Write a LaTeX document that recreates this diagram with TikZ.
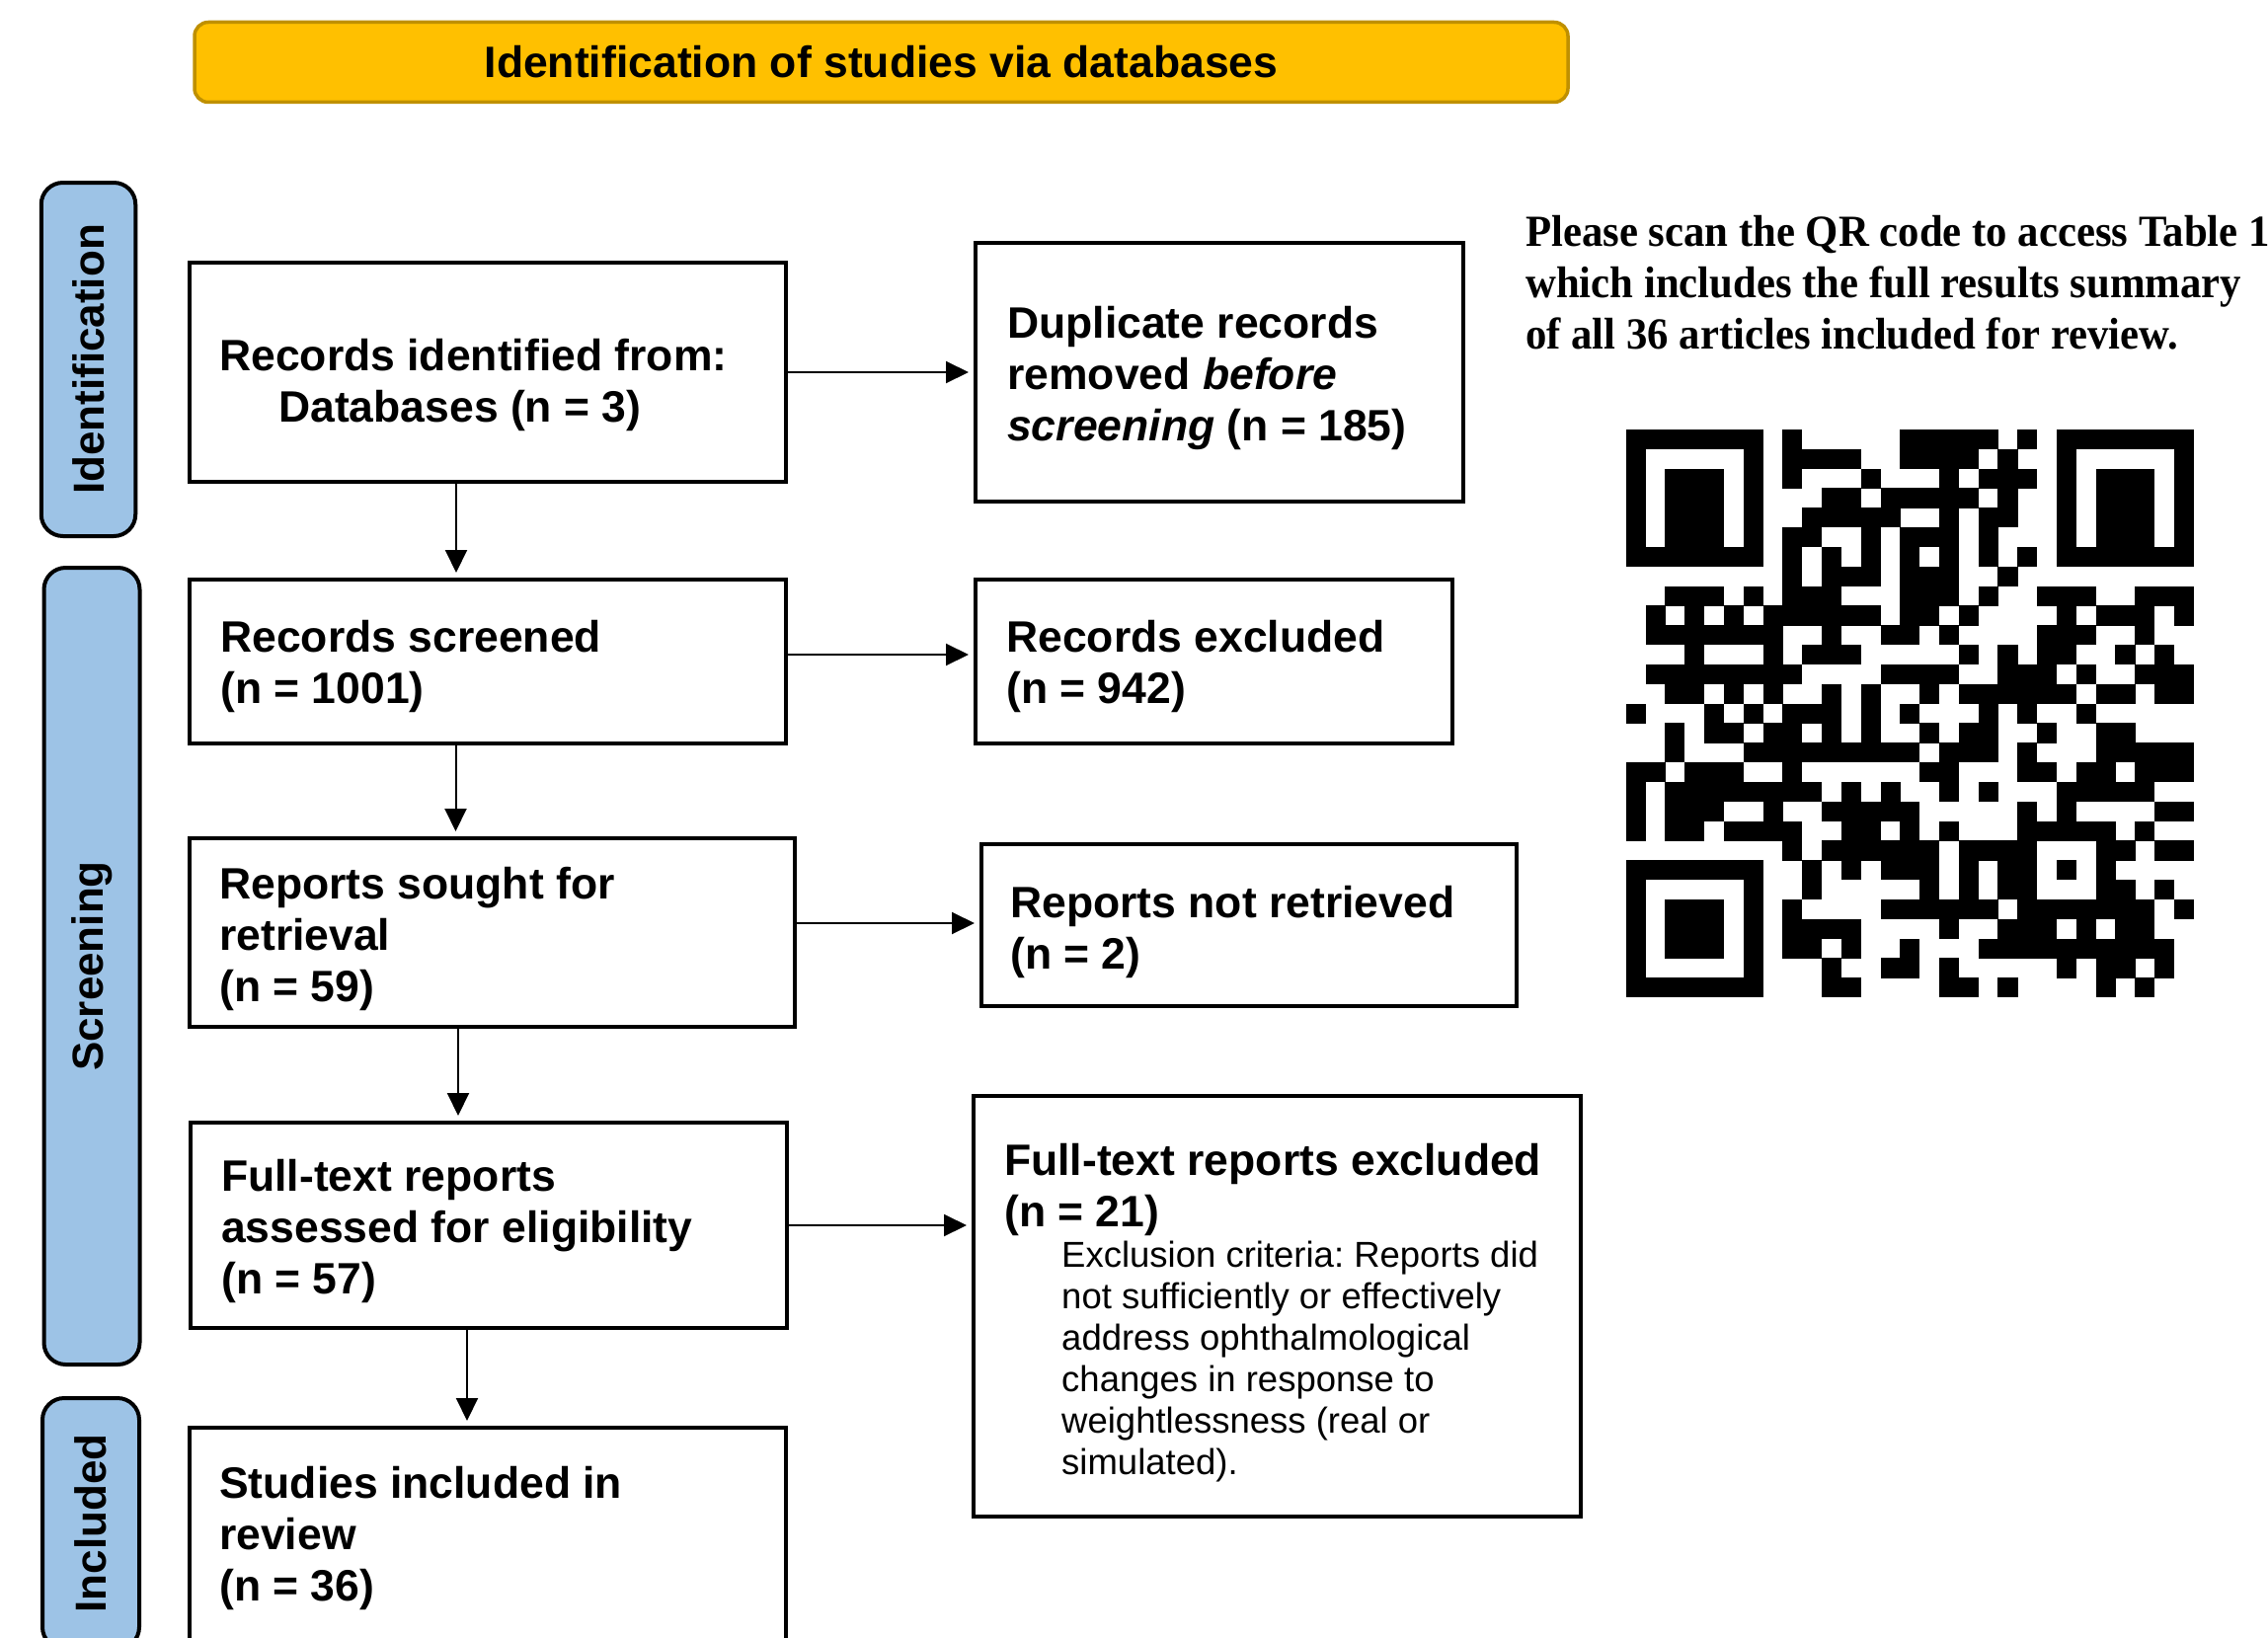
\documentclass[tikz,border=0pt]{standalone}
\usepackage{fontspec}
\setmainfont{Liberation Sans}
\newfontfamily\serifqr[FakeStretch=0.95]{Liberation Serif}
\usetikzlibrary{arrows.meta}
\definecolor{bannergold}{HTML}{FFC000}
\definecolor{bannerdark}{HTML}{BF9000}
\definecolor{stageblue}{HTML}{9DC3E6}
\frenchspacing

\newcount\qrcol
\def\qrrow#1#2{\qrcol=0 \def\qrr{#1}\qrparse#2\relax}
\def\qrparse#1{\ifx\relax#1\else\ifx1#1\fill[black] ({1646.7+\the\qrcol*19.83},{435+\qrr*19.83}) rectangle ++(20.1,20.1);\fi\advance\qrcol by 1 \expandafter\qrparse\fi}

\begin{document}
\begin{tikzpicture}[x=1pt,y=-1pt,
  box/.style={draw=black, line width=4pt, fill=white, inner sep=0pt},
  stage/.style={draw=black, line width=4pt, fill=stageblue, rounded corners=22pt, inner sep=0pt, rotate=90, font=\fontsize{44}{52}\selectfont\bfseries},
  txt/.style={anchor=base west, align=left, inner sep=0pt, font=\fontsize{44.5}{52}\selectfont\bfseries},
  smalltxt/.style={anchor=base west, align=left, inner sep=0pt, font=\fontsize{36.5}{42}\selectfont},
  qrtxt/.style={anchor=base west, align=left, inner sep=0pt, font=\serifqr\fontsize{45}{52}\selectfont\bfseries},
  arr/.style={line width=2pt, -{Triangle[length=23pt,width=22pt]}, shorten >=5pt}]
\useasboundingbox (0,0) rectangle (2297,1659);
\clip (0,0) rectangle (2297,1659);
\fill[white] (0,0) rectangle (2297,1659);

% banner
\node[draw=bannerdark, fill=bannergold, line width=3.5pt, rounded corners=14pt,
  minimum width=1391, minimum height=81, inner sep=0pt,
  font=\fontsize{44.5}{52}\selectfont\bfseries] (banner) at (892.5,63) {Identification of studies via databases};

% stage labels
\node[stage, minimum width=358, minimum height=95.5] (lid) at (89.5,364) {Identification};
\node[stage, minimum width=807, minimum height=97] (lscr) at (93,978.5) {Screening};
\node[stage, minimum width=254, minimum height=98] (linc) at (92,1543) {Included};

% boxes
\node[box, minimum width=604, minimum height=222] (b1) at (494,377) {};
\node[box, minimum width=604, minimum height=166] (b2) at (494,670) {};
\node[box, minimum width=613, minimum height=191] (b3) at (498.5,944.5) {};
\node[box, minimum width=604, minimum height=208] (b4) at (495,1241) {};
\node[box, minimum width=604, minimum height=272] (b5) at (494,1582) {};
\node[box, minimum width=494, minimum height=262] (r1) at (1235,377) {};
\node[box, minimum width=483, minimum height=166] (r2) at (1229.5,670) {};
\node[box, minimum width=542, minimum height=164] (r3) at (1265,937) {};
\node[box, minimum width=615, minimum height=426] (r4) at (1293.5,1323) {};

% texts (anchored at the baseline of their last line)
\node[txt] (b1t) at (222,427) {Records identified from:\\\hspace*{60pt}Databases (n = 3)};
\node[txt] (b2t) at (223,712) {Records screened\\(n = 1001)};
\node[txt] (b3t) at (222,1014) {Reports sought for\\retrieval\\(n = 59)};
\node[txt] (b4t) at (224,1310) {Full-text reports\\assessed for eligibility\\(n = 57)};
\node[txt] (b5t) at (222,1621) {Studies included in\\review\\(n = 36)};
\node[txt] (r1t) at (1020,446) {Duplicate records\\removed \textit{before}\\\textit{screening} (n = 185)};
\node[txt] (r2t) at (1019,712) {Records excluded\\(n = 942)};
\node[txt] (r3t) at (1023,981) {Reports not retrieved\\(n = 2)};
\node[txt] (r4t) at (1017,1242) {Full-text reports excluded\\(n = 21)};
\node[smalltxt] (r4c) at (1075,1493) {Exclusion criteria: Reports did\\not sufficiently or effectively\\address ophthalmological\\changes in response to\\weightlessness (real or\\simulated).};
\node[qrtxt] (qrnote) at (1545,353) {Please scan the QR code to access Table 1\\which includes the full results summary\\of all 36 articles included for review.};

% arrows
\draw[arr] (b1.east) -- (r1.west);
\draw[arr] ([yshift=7pt]b2.east) -- ([yshift=7pt]b2.east -| r2.west);
\draw[arr] ([yshift=9.5pt]b3.east) -- ([yshift=9.5pt]b3.east -| r3.west);
\draw[arr] (b4.east) -- (b4.east -| r4.west);
\draw[arr] ([xshift=-32pt]b1.south) -- ([xshift=-32pt]b1.south |- b2.north);
\draw[arr] ([xshift=-32.5pt]b2.south) -- ([xshift=-32.5pt]b2.south |- b3.north);
\draw[arr] ([xshift=-34.5pt]b3.south) -- ([xshift=-34.5pt]b3.south |- b4.north);
\draw[arr] ([xshift=-22pt]b4.south) -- ([xshift=-22pt]b4.south |- b5.north);

% QR code
\qrrow{0}{11111110100000111110101111111}
\qrrow{1}{10000010111100111101001000001}
\qrrow{2}{10111010100010001011101011101}
\qrrow{3}{10111010001101111101001011101}
\qrrow{4}{10111010011111001011001011101}
\qrrow{5}{10111010110010111010001011101}
\qrrow{6}{11111110101010101010101111111}
\qrrow{7}{00000000101110111001000000000}
\qrrow{8}{00111010111000111010011100111}
\qrrow{9}{01010101111110110100001011101}
\qrrow{10}{01111111001001101000011100100}
\qrrow{11}{00010001011100000101011001010}
\qrrow{12}{01111111100001111001110100111}
\qrrow{13}{00110101001010010111111011011}
\qrrow{14}{10001010111010100010100100000}
\qrrow{15}{00101101101010010110010011000}
\qrrow{16}{00100011111111101110100011111}
\qrrow{17}{11011100100000011000110110111}
\qrrow{18}{10111111110101001010001111100}
\qrrow{19}{10111001001111100000101000011}
\qrrow{20}{10110111100110101000111110100}
\qrrow{21}{00000000101111110111100011011}
\qrrow{22}{11111110010101110101101010000}
\qrrow{23}{10000010010000010101100011010}
\qrrow{24}{10111010100001111110111111101}
\qrrow{25}{10111010111100001001110101100}
\qrrow{26}{10111010110100100011111111110}
\qrrow{27}{10000010001001101000001011010}
\qrrow{28}{11111110001100001101000010100}
\end{tikzpicture}
\end{document}
